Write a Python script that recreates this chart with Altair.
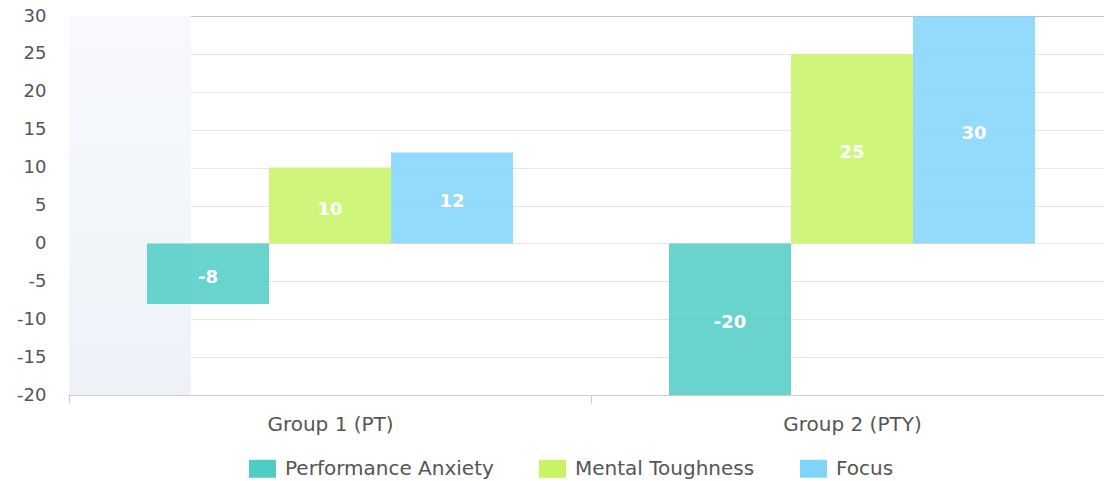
import altair as alt
import pandas as pd

# Chart values
groups = ["Group 1 (PT)", "Group 2 (PTY)"]
metrics = ["Performance Anxiety", "Mental Toughness", "Focus"]
anxiety = [-8, -20]
toughness = [10, 25]
focus = [12, 30]
colors = ["#4ECDC4", "#C7F464", "#81D4FA"]
y_ticks = [-20, -15, -10, -5, 0, 5, 10, 15, 20, 25, 30]

rows = []
for i, g in enumerate(groups):
    for m, vals in zip(metrics, [anxiety, toughness, focus]):
        rows.append({"group": g, "metric": m, "value": vals[i], "mid": vals[i] / 2,
                     "label": str(vals[i])})
df = pd.DataFrame(rows)

# hover highlight strip over the first category
shadow = pd.DataFrame({"group": [groups[0]], "lo": [y_ticks[0]], "hi": [y_ticks[-1]]})

FONT = "DejaVu Sans"

x_scale = alt.Scale(domain=groups, range=[0, 1044], paddingInner=0, paddingOuter=0)
y_scale = alt.Scale(domain=[-20, 30], nice=False, zero=False)
offset_scale = alt.Scale(domain=metrics, paddingInner=0, paddingOuter=0.639)

x_axis = alt.Axis(
    title=None, labelAngle=0, grid=False, domainColor="#cccccc", tickColor="#cccccc",
    tickSize=8, tickBand="extent", labelPadding=11, labelFontSize=20,
    labelColor="#555555", labelFont=FONT,
)
y_axis = alt.Axis(
    title=None, values=y_ticks, domain=False, ticks=False, labelPadding=23,
    labelFontSize=18, labelColor="#555555", labelFont=FONT,
    labelExpr="datum.value + ''",
    gridColor={"condition": {"test": "datum.value === 30", "value": "#c4c4c4"}, "value": "#e6e6e6"},
)

strip = alt.Chart(shadow).mark_bar(
    width=122, xOffset=-200,
    color=alt.Gradient(
        gradient="linear",
        stops=[alt.GradientStop(color="#f7f9fc", offset=0), alt.GradientStop(color="#eef2f8", offset=1)],
        x1=0, x2=0, y1=0, y2=1,
    ),
).encode(
    x=alt.X("group:N", scale=x_scale, axis=x_axis, sort=groups),
    y=alt.Y("lo:Q", scale=y_scale, axis=y_axis),
    y2="hi:Q",
)

bars = alt.Chart(df).mark_bar(opacity=0.85).encode(
    x=alt.X("group:N", scale=x_scale, axis=x_axis, sort=groups),
    xOffset=alt.XOffset("metric:N", scale=offset_scale, sort=metrics),
    y=alt.Y("value:Q", scale=y_scale, axis=y_axis),
    color=alt.Color(
        "metric:N", scale=alt.Scale(domain=metrics, range=colors), sort=metrics,
        legend=alt.Legend(
            title=None, orient="none", legendX=180, legendY=439, direction="horizontal",
            symbolType="M-1,-0.667H1V0.667H-1Z", symbolSize=729, symbolStrokeWidth=0,
            symbolOpacity=1, labelFontSize=20, labelFont=FONT, labelColor="#555555",
            labelOffset=9, columnPadding=45, labelLimit=400,
        ),
    ),
)

labels = alt.Chart(df).mark_text(
    color="white", fontWeight="bold", fontSize=18, font=FONT, baseline="middle",
    align="center", dy=4,
).encode(
    x=alt.X("group:N", scale=x_scale, axis=x_axis, sort=groups),
    xOffset=alt.XOffset("metric:N", scale=offset_scale, sort=metrics),
    y=alt.Y("mid:Q", scale=y_scale, axis=y_axis),
    text=alt.Text("label:N"),
)

chart = alt.layer(strip, bars, labels).properties(
    width=1035,
    height=379,
    padding={"left": 69, "top": 16, "right": 0, "bottom": 86},
    autosize=alt.AutoSizeParams(type="none"),
    background="white",
).configure_view(stroke=None)

chart.save("out.html", embed_options={"renderer": "svg", "actions": False})
